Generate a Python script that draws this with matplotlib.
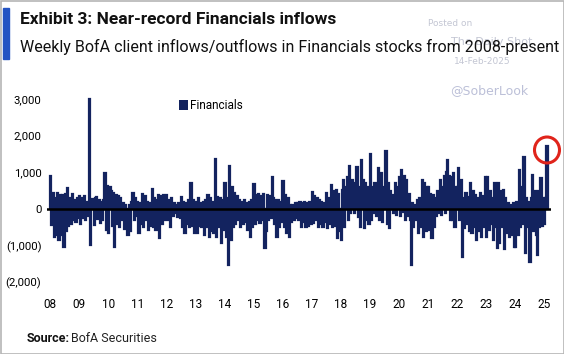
import numpy as np
import matplotlib
matplotlib.use("Agg")
import matplotlib.pyplot as plt
from matplotlib.patches import Rectangle, Ellipse

# weekly BofA client flows into Financials ($mn),
# roughly two readings per month, year by year
flows_2008 = [900, -440, 430, -750, 290, -700, 430, -850, 380, -700, 380, -1030,
              400, -600, 560, -450, 300, -400, 400, -300, 250, -350, 300, -250]
flows_2009 = [350, -400, 300, -250, 350, -300, 200, -200, 3000, -980, 150, 270,
              -440, 300, 330, -260, 250, -390, 200, -300, 250, 970, -570, 630]
flows_2010 = [-660, 600, 500, -470, 430, -1030, 380, -400, 350, -480, 300, -300,
              150, -550, 100, -500, -700, 100, -600, 200, 430, -300, 300, -200]
flows_2011 = [200, -660, 150, -400, 400, -480, 350, -300, 200, -570, 150, -450,
              540, -480, 300, -570, 250, 380, -800, 350, -400, 380, -300, 200]
flows_2012 = [380, -300, 250, -480, 300, -200, 170, -120, 100, -210, 150, -250,
              330, -480, 200, -660, 150, -400, 250, -480, 700, -450, 250, -660]
flows_2013 = [180, -660, 300, -450, 150, -480, 200, -700, 250, -500, 380, -750,
              300, -600, 200, -650, 1365, -750, 340, -500, 300, -940, 250, -570]
flows_2014 = [700, -760, 300, -1530, 1170, -850, 600, -500, 430, -400, 350, -300,
              250, -480, 200, -400, 250, -350, 150, -570, 200, -750, 250, -500]
flows_2015 = [670, -400, 380, -300, 400, -390, 350, -300, 420, -1070, -600, 380,
              -300, 350, -250, 860, 300, -400, 250, -750, 250, -480, 200, -350]
flows_2016 = [750, -500, 380, -660, 300, -750, 110, -350, 100, -300, 150, -250,
              150, -300, 200, -480, 150, -350, 200, -500, 150, -450, 200, -400]
flows_2017 = [470, -390, 350, -300, 290, -480, 250, -400, 200, -480, 150, -350,
              430, -530, 300, -400, 650, -480, 500, -450, 520, -800, 400, -600]
flows_2018 = [-850, 520, 790, -480, 600, 880, -300, 1170, -120, 790, 500, -120,
              700, 1140, -210, 600, -480, 1340, 790, -530, 700, -300, 600, -400]
flows_2019 = [1500, -300, 600, -120, 700, -200, 500, 1110, -300, 970, -350, 600,
              200, 1570, -400, 700, -530, 500, 380, -120, 300, 700, -150, 600]
flows_2020 = [880, -200, 1060, -70, 900, -300, 790, -200, 400, -300, -1530, 150,
              -480, 100, -300, 250, -660, 300, -500, 790, -750, 700, -600, 600]
flows_2021 = [610, -560, 400, -800, 380, -500, 300, -200, 500, -120, 790, -150,
              600, 900, -100, 1000, 1340, 900, -300, 880, -300, 970, -480, 610]
flows_2022 = [600, 1110, -300, 800, -1300, 300, -530, 430, -400, 330, -600, 700,
              -660, 500, -500, 380, -850, 300, -600, 430, -750, 350, -500, 880]
flows_2023 = [-750, 860, -570, 500, -400, 300, -850, 700, -500, -1070, 700, -940,
              500, -480, 520, -1100, 300, -660, 150, -750, 100, -700, 150, -1030]
flows_2024 = [-1030, 200, -700, 1060, -500, 600, -400, 1430, -1210, 300, -500, 200,
              -1440, 300, 930, -600, 500, -700, -1250, 500, -500, 840, -470, 300]
flows_2025 = [-400, 300, 1720]

years = list(range(2008, 2026))
yearly = [flows_2008, flows_2009, flows_2010, flows_2011, flows_2012, flows_2013,
          flows_2014, flows_2015, flows_2016, flows_2017, flows_2018, flows_2019,
          flows_2020, flows_2021, flows_2022, flows_2023, flows_2024, flows_2025]

xs, ys = [], []
for yr, vals in zip(years, yearly):
    for i, v in enumerate(vals):
        xs.append(yr + i / 24)
        ys.append(v)

yticks = [3000, 2000, 1000, 0, -1000, -2000]
ytick_labels = ["3,000", "2,000", "1,000", "0", "(1,000)", "(2,000)"]
xtick_labels = [f"{y % 100:02d}" for y in years]

W, H = 564, 354
navy = "#13235f"
fam = ["Roboto", "DejaVu Sans"]

def fx(px):
    return px / W

def fy(py):
    return 1 - py / H

fig = plt.figure(figsize=(W / 100, H / 100), dpi=100)
fig.patch.set_facecolor("white")

# axes in pixel terms: 2008 at x=50, ~29 px/year; zero at y=209, 36.67 px per 1000
left_px, right_px, top_px, bot_px = 47, 551, 90, 292
ppy = 494 / 17
ax = fig.add_axes([fx(left_px), fy(bot_px), fx(right_px - left_px), (bot_px - top_px) / H])
ax.set_xlim(2008 + (left_px - 50) / ppy, 2008 + (right_px - 50) / ppy)
ax.set_ylim(-(bot_px - 209) / 36.67 * 1000, (209 - top_px) / 36.67 * 1000)

bars = ax.bar(xs, ys, width=1 / 24, align="edge", color=navy, edgecolor=navy,
              linewidth=1.6, label="Financials")
ax.axhline(0, color="black", lw=1.8)

for s in ax.spines.values():
    s.set_visible(False)
ax.set_yticks(yticks)
ax.set_yticklabels(ytick_labels, family=fam, fontsize=8.2)
ax.set_xticks(years)
ax.set_xticklabels(xtick_labels, family=fam, fontsize=8.5)
ax.tick_params(length=0, pad=4)
ax.tick_params(axis="y", pad=4)

leg = ax.legend(handles=[bars], loc="upper left", bbox_to_anchor=(fx(173), fy(93)),
                bbox_transform=fig.transFigure, frameon=False, handlelength=0.75,
                handleheight=0.9, handletextpad=0.15, borderpad=0,
                prop={"family": fam, "size": 8.5})
for h in leg.legend_handles:
    h.set_linewidth(0)

# red circle around the latest week
fig.patches.append(Ellipse((fx(547), fy(150)), 25 / W, 26 / H, transform=fig.transFigure,
                           fill=False, edgecolor="#e0241b", lw=2.2))

# header
fig.patches.append(Rectangle((fx(3), fy(59)), 6 / W, 51 / H, transform=fig.transFigure,
                             color="#2353c3"))
fig.text(fx(20), fy(20), "Exhibit 3: Near-record Financials inflows", family=fam,
         weight="bold", fontsize=12.5, va="center", ha="left", color="#111111")

# watermark
wm = "#c3c6d3"
fig.text(fx(450), fy(24), "Posted on", fontsize=6.5, color=wm, ha="center", va="center")
fig.text(fx(492), fy(42), "The Daily Shot", fontsize=8, color=wm, ha="center", va="center")
fig.text(fx(482), fy(61), "14-Feb-2025", fontsize=6.5, color=wm, ha="center", va="center")
fig.text(fx(489), fy(91), "@SoberLook", fontsize=9, color="#bcc0d8", ha="center", va="center")

fig.text(fx(20), fy(47), "Weekly BofA client inflows/outflows in Financials stocks from 2008-present",
         family=fam, fontsize=11.5, va="center", ha="left", color="#111111")

fig.text(fx(27), fy(339), "Source:", family=fam, weight="bold", fontsize=9,
         va="center", ha="left", color="#111111")
fig.text(fx(71), fy(339), "BofA Securities", family=fam, fontsize=9,
         va="center", ha="left", color="#222222")

# thin grey frame around the whole exhibit
fig.patches.append(Rectangle((0.5 / W, 0.5 / H), 1 - 1 / W, 1 - 1 / H, transform=fig.transFigure,
                             fill=False, edgecolor="#b5b5b5", lw=1.2))

fig.savefig("out.png", dpi=100)
